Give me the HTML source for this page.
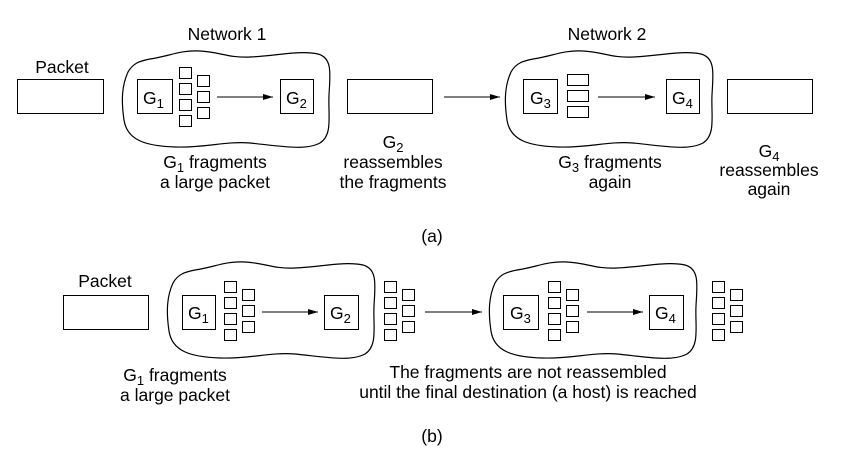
<!DOCTYPE html>
<html><head><meta charset="utf-8"><style>
html,body{margin:0;padding:0;background:#fff;}
svg{display:block;}
text{font-family:"Liberation Sans",Arial,sans-serif;font-size:17.5px;fill:#000;}
.s{font-size:13px;}
</style></head><body>
<svg width="848" height="465" viewBox="0 0 848 465" xmlns="http://www.w3.org/2000/svg">
<defs>
<marker id="ah" markerWidth="10" markerHeight="8" refX="10" refY="4" orient="auto" markerUnits="userSpaceOnUse">
<path d="M0,1 L10,4 L0,7 Z" fill="#000"/>
</marker>
<path id="cl" d="M150,59 C170,56 180,50 200,51 C220,52 228,58 250,57 C275,56 300,50 318,54 C333,58 330,75 329,95 C328,115 333,135 320,143 C305,151 280,146 250,143 C225,141 205,148 175,147 C145,146 127,140 124,120 C121,100 122,85 128,72 C133,63 140,61 150,59 Z" fill="none" stroke="#000" stroke-width="1.2"/>
<g id="sq8" fill="none" stroke="#000" stroke-width="1">
<rect x="0.5" y="0.5" width="12" height="11"/><rect x="0.5" y="16.5" width="12" height="11"/><rect x="0.5" y="32.5" width="12" height="11"/><rect x="0.5" y="48.5" width="12" height="11"/>
<rect x="18.5" y="8.5" width="12" height="11"/><rect x="18.5" y="24.5" width="12" height="11"/><rect x="18.5" y="40.5" width="12" height="11"/>
</g>
</defs>
<g fill="none" stroke="#000" stroke-width="1">
<rect x="17.5" y="79.5" width="86" height="34"/>
<use href="#cl"/>
<rect x="137.5" y="79.5" width="35" height="34"/>
<line x1="217" y1="97" x2="273" y2="97" marker-end="url(#ah)"/>
<rect x="280.5" y="79.5" width="33" height="34"/>
<rect x="347.5" y="79.5" width="85" height="34"/>
<line x1="444" y1="97" x2="500" y2="97" marker-end="url(#ah)"/>
<use href="#cl" transform="translate(383,0)"/>
<rect x="523.5" y="79.5" width="34" height="34"/>
<rect x="567.5" y="74.5" width="21" height="11"/><rect x="567.5" y="90.5" width="21" height="11"/><rect x="567.5" y="106.5" width="21" height="11"/>
<line x1="598" y1="97" x2="655" y2="97" marker-end="url(#ah)"/>
<rect x="666.5" y="79.5" width="33" height="34"/>
<rect x="727.5" y="79.5" width="85" height="34"/>
<rect x="63.5" y="295.5" width="85" height="34"/>
<use href="#cl" transform="translate(45,211)"/>
<rect x="182.5" y="295.5" width="33" height="34"/>
<line x1="262" y1="312" x2="318" y2="312" marker-end="url(#ah)"/>
<rect x="324.5" y="295.5" width="34" height="34"/>
<line x1="425" y1="312" x2="482" y2="312" marker-end="url(#ah)"/>
<use href="#cl" transform="translate(367,211)"/>
<rect x="503.5" y="295.5" width="35" height="34"/>
<line x1="587" y1="312" x2="643" y2="312" marker-end="url(#ah)"/>
<rect x="649.5" y="295.5" width="34" height="34"/>
</g>
<use href="#sq8" transform="translate(179,67)"/>
<use href="#sq8" transform="translate(224,281)"/>
<use href="#sq8" transform="translate(384,281)"/>
<use href="#sq8" transform="translate(548,281)"/>
<use href="#sq8" transform="translate(712,281)"/>

<text x="227" y="40" text-anchor="middle">Network 1</text>
<text x="607" y="40" text-anchor="middle">Network 2</text>
<text x="62" y="73" text-anchor="middle">Packet</text>
<text x="143" y="104">G<tspan class="s" dy="4">1</tspan></text>
<text x="286" y="104">G<tspan class="s" dy="4">2</tspan></text>
<text x="530" y="104">G<tspan class="s" dy="4">3</tspan></text>
<text x="672" y="104">G<tspan class="s" dy="4">4</tspan></text>
<text x="215" y="168" text-anchor="middle">G<tspan class="s" dy="4">1</tspan><tspan dy="-4"> fragments</tspan></text>
<text x="215" y="188" text-anchor="middle">a large packet</text>
<text x="393" y="148" text-anchor="middle">G<tspan class="s" dy="4">2</tspan></text>
<text x="393" y="168" text-anchor="middle">reassembles</text>
<text x="393" y="188" text-anchor="middle">the fragments</text>
<text x="610" y="168" text-anchor="middle">G<tspan class="s" dy="4">3</tspan><tspan dy="-4"> fragments</tspan></text>
<text x="610" y="188" text-anchor="middle">again</text>
<text x="769" y="157" text-anchor="middle">G<tspan class="s" dy="4">4</tspan></text>
<text x="769" y="176" text-anchor="middle">reassembles</text>
<text x="769" y="195" text-anchor="middle">again</text>
<text x="432" y="242" text-anchor="middle">(a)</text>

<text x="105" y="287" text-anchor="middle">Packet</text>
<text x="188" y="319">G<tspan class="s" dy="4">1</tspan></text>
<text x="330" y="319">G<tspan class="s" dy="4">2</tspan></text>
<text x="510" y="319">G<tspan class="s" dy="4">3</tspan></text>
<text x="655" y="319">G<tspan class="s" dy="4">4</tspan></text>
<text x="175" y="381" text-anchor="middle">G<tspan class="s" dy="4">1</tspan><tspan dy="-4"> fragments</tspan></text>
<text x="175" y="401" text-anchor="middle">a large packet</text>
<text x="528" y="378" text-anchor="middle">The fragments are not reassembled</text>
<text x="528" y="398" text-anchor="middle">until the final destination (a host) is reached</text>
<text x="432" y="442" text-anchor="middle">(b)</text>
</svg>
</body></html>
